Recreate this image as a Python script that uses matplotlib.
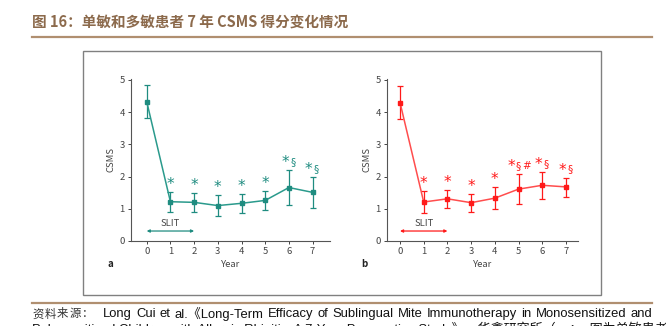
import matplotlib
matplotlib.use("Agg")
import matplotlib.pyplot as plt
from matplotlib.patches import Rectangle
from matplotlib.lines import Line2D

plt.rcParams['font.family'] = ['Noto Sans CJK SC', 'DejaVu Sans']

years = [0, 1, 2, 3, 4, 5, 6, 7]
mono_mean = [4.33, 1.22, 1.20, 1.10, 1.17, 1.26, 1.66, 1.51]
mono_low = [3.81, 0.91, 0.91, 0.77, 0.86, 0.97, 1.11, 1.04]
mono_high = [4.83, 1.51, 1.48, 1.43, 1.46, 1.54, 2.20, 1.99]
mono_marks = ["", "*", "*", "*", "*", "*", "*§", "*§"]

poly_mean = [4.30, 1.21, 1.31, 1.19, 1.33, 1.61, 1.73, 1.68]
poly_low = [3.80, 0.86, 1.01, 0.91, 0.98, 1.14, 1.30, 1.37]
poly_high = [4.81, 1.55, 1.59, 1.45, 1.69, 2.07, 2.13, 1.97]
poly_marks = ["", "*", "*", "*", "*", "*§#", "*§", "*§"]

yticks = [0, 1, 2, 3, 4, 5]

W, H = 666, 326
fig = plt.figure(figsize=(W / 100, H / 100), dpi=100)


def fx(px):
    return px / W


def fy(py):
    return 1 - py / H


# title and rules
fig.text(fx(32), fy(22), "图 16：单敏和多敏患者 7 年 CSMS 得分变化情况", fontsize=10.5,
         fontweight='bold', color='#8c6a4c', va='center', ha='left')
fig.add_artist(Line2D([fx(32), fx(652)], [fy(36.5), fy(36.5)], color='#b08f70', lw=1.6))
fig.add_artist(Line2D([fx(32), fx(652)], [fy(302.5), fy(302.5)], color='#b08f70', lw=1.6))

# image frame
fig.add_artist(Rectangle((fx(83), fy(295)), fx(601) - fx(83), fy(51) - fy(295),
                         fill=False, edgecolor='#808080', lw=1.0))

for i, ch in enumerate("资料来源："):
    fig.text(fx(32 + i * 12.4), fy(314), ch, fontsize=8.2, color='#333333', va='center',
             ha='left', family=['Noto Sans CJK SC'], fontweight='light')

line1 = "Long Cui et al.《Long-Term Efficacy of Sublingual Mite Immunotherapy in Monosensitized and"
words = line1.split(" ")
renderer = fig.canvas.get_renderer()
arts = []
for w in words:
    t = fig.text(0, fy(314), w, fontsize=9.4, color='#111111', va='center', ha='left',
                 family=['Liberation Sans', 'Noto Sans CJK SC'])
    arts.append(t)
widths = [a.get_window_extent(renderer=renderer).width for a in arts]
start, end = 103, 652
gap = (end - start - sum(widths)) / (len(words) - 1)
xpos = start
for a, wd in zip(arts, widths):
    a.set_x(fx(xpos))
    xpos += wd + gap

fig.text(fx(32), fy(329),
         "Polysensitized Children with Allergic Rhinitis: A 7-Year Prospective Study》，华鑫研究所（ps：a图为单敏患者，b图为多敏患者）",
         fontsize=9.4, color='#111111', va='center', ha='left',
         family=['Liberation Sans', 'Noto Sans CJK SC'])


def panel(left, right, x0px, color, lcolor, mean, low, high, marks, letter, letter_px):
    step = 23.7
    ax = fig.add_axes([fx(left), fy(241), fx(right) - fx(left), fy(79) - fy(241)])
    ax.set_xlim(-(x0px - left) / step, 7 + (right - (x0px + 7 * step)) / step)
    ax.set_ylim(0, 5.03)
    for s in ['top', 'right']:
        ax.spines[s].set_visible(False)
    for s in ['left', 'bottom']:
        ax.spines[s].set_color('#555555')
        ax.spines[s].set_linewidth(0.8)
    ax.set_xticks(years)
    ax.set_yticks(yticks)
    ax.tick_params(labelsize=6.8, colors='#444444', length=2.5, width=0.7, pad=2)
    ax.set_xlabel("Year", fontsize=6.8, color='#444444', labelpad=3)
    ax.set_ylabel("CSMS", fontsize=6.8, color='#444444', labelpad=3)
    yerr = [[m - l for m, l in zip(mean, low)], [h - m for m, h in zip(mean, high)]]
    ax.errorbar(years, mean, yerr=yerr, color=lcolor, ecolor=color, elinewidth=0.9,
                capsize=2.5, capthick=0.9, lw=1.1, marker='s', markersize=3.5,
                markerfacecolor=color, markeredgecolor=color, zorder=3)
    for x, h, t in zip(years, high, marks):
        if not t:
            continue
        n = len(t)
        xs = [x + (i - (n - 1) / 2) * 0.32 for i in range(n)]
        if n == 1:
            xs = [x]
        for xi, ch in zip(xs, t):
            if ch == '*':
                ax.text(xi, h + 0.0, ch, fontsize=11, color=color, ha='center', va='bottom',
                        family=['DejaVu Sans'])
            else:
                ax.text(xi, h + 0.1, ch, fontsize=7.5, color=color, ha='center', va='bottom',
                        family=['DejaVu Sans'])
    ax.annotate("", xy=(0, 0.31), xytext=(2, 0.31),
                arrowprops=dict(arrowstyle='<|-|>', color=color, lw=0.9,
                                mutation_scale=4, shrinkA=0, shrinkB=0))
    ax.text(1, 0.4, "SLIT", fontsize=6.8, color='#444444', ha='center', va='bottom')
    fig.text(fx(letter_px), fy(264), letter, fontsize=7, fontweight='bold', color='#222222',
             ha='center', va='center')
    return ax


panel(131, 330, 146.7, '#1f8c80', '#2a9a8c', mono_mean, mono_low, mono_high, mono_marks,
      'a', 110)
panel(387, 578, 400, '#ff1a1a', '#ff4d4d', poly_mean, poly_low, poly_high, poly_marks,
      'b', 364)

fig.savefig("out.png", dpi=100)
